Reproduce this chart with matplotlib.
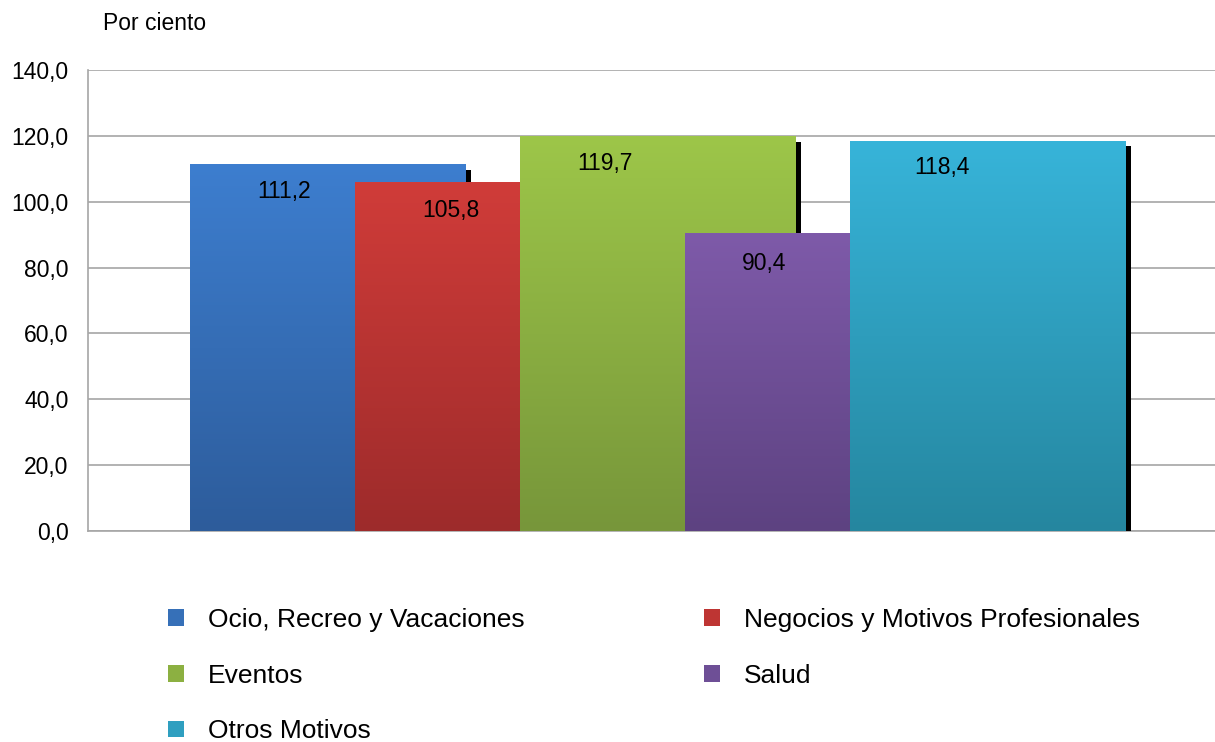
import numpy as np
import matplotlib
matplotlib.use("Agg")
import matplotlib.pyplot as plt
from matplotlib.colors import LinearSegmentedColormap
from matplotlib.patches import Rectangle, Patch
from matplotlib.transforms import ScaledTranslation

plt.rcParams['font.family'] = ['Liberation Sans', 'DejaVu Sans']

# ---- data ----
series = ["Ocio, Recreo y Vacaciones", "Negocios y Motivos Profesionales",
          "Eventos", "Salud", "Otros Motivos"]
values = [111.2, 105.8, 119.7, 90.4, 118.4]
value_labels = ["111,2", "105,8", "119,7", "90,4", "118,4"]
yticks = [0, 20, 40, 60, 80, 100, 120, 140]
ytick_labels = ["0,0", "20,0", "40,0", "60,0", "80,0", "100,0", "120,0", "140,0"]

# ---- style ----
top_colors = ["#3D7ECF", "#D03C39", "#9DC649", "#7E5AA9", "#37B4D9"]
bot_colors = ["#2D5C9B", "#9D2B2B", "#77963A", "#5D4281", "#25869F"]
mid_colors = ["#3670B8", "#BE3533", "#8CB041", "#6E4F96", "#2F9FC0"]
label_dx_px = [94, 95, 84, 79, 91]     # label offset from bar left edge (px)
label_dy_px = [26.5, 28, 27, 30, 26]   # label offset below bar top (px)

W, H, DPI = 1215, 742, 100
fig = plt.figure(figsize=(W / DPI, H / DPI), dpi=DPI)
ax_left, ax_right, ax_top, ax_bot = 88, 1215, 70, 531
ax = fig.add_axes([ax_left / W, 1 - ax_bot / H, (ax_right - ax_left) / W, (ax_bot - ax_top) / H])

axw = ax_right - ax_left
step = 165 / axw
width = 276 / axw
center_shift = 0.0062
xlim = (-0.5 - center_shift, 0.5 - center_shift)

grad = np.linspace(0, 1, 256).reshape(-1, 1)
shadow_off = ScaledTranslation(5 / DPI, -5 / DPI, fig.dpi_scale_trans)
n = len(values)
px_per_x = axw / (xlim[1] - xlim[0])
px_per_y = (ax_bot - ax_top) / 140
for i, (v, tc, bc) in enumerate(zip(values, top_colors, bot_colors)):
    xc = (i - (n - 1) / 2) * step
    left = xc - width / 2
    z = 2 + i * 2
    sh = Rectangle((left, 0), width, v, facecolor="black", edgecolor="none",
                   transform=ax.transData + shadow_off, zorder=z)
    ax.add_patch(sh)
    cmap = LinearSegmentedColormap.from_list(f"g{i}", [bc, tc])
    ax.imshow(grad, cmap=cmap, extent=[left, left + width, 0, v], origin="lower",
              aspect="auto", zorder=z + 1, interpolation="bilinear")
    ax.text(left + label_dx_px[i] / px_per_x, v - label_dy_px[i] / px_per_y,
            value_labels[i], ha="center", va="center", fontsize=16.5,
            color="black", zorder=20)

ax.set_xlim(*xlim)
ax.set_ylim(0, 140)
ax.set_yticks(yticks)
ax.set_yticklabels(ytick_labels, fontsize=16.5)
ax.set_xticks([])
ax.tick_params(axis="y", length=0, pad=14)
ax.yaxis.grid(True, color="#A6A6A6", linewidth=1.2)
ax.set_axisbelow(True)
for s in ["top", "right"]:
    ax.spines[s].set_visible(False)
for s in ["left", "bottom"]:
    ax.spines[s].set_color("#A6A6A6")
    ax.spines[s].set_linewidth(1.2)
    ax.spines[s].set_zorder(0.5)

fig.text(103 / W, 1 - 23 / H, "Por ciento", fontsize=16.5, ha="left", va="center")

# legend: order so ncol=2 fills rows like reference
order = [0, 2, 4, 1, 3]
handles = [Patch(facecolor=mid_colors[k], edgecolor="none", label=series[k]) for k in order]
leg = fig.legend(handles=handles, loc="upper left", bbox_to_anchor=(168 / W, 1 - 608 / H),
                 ncol=2, frameon=False, fontsize=19, handlelength=0.6, handleheight=0.6,
                 handletextpad=0.9, columnspacing=6.83, labelspacing=1.2, borderpad=0,
                 borderaxespad=0)

fig.savefig("out.png", dpi=DPI)
